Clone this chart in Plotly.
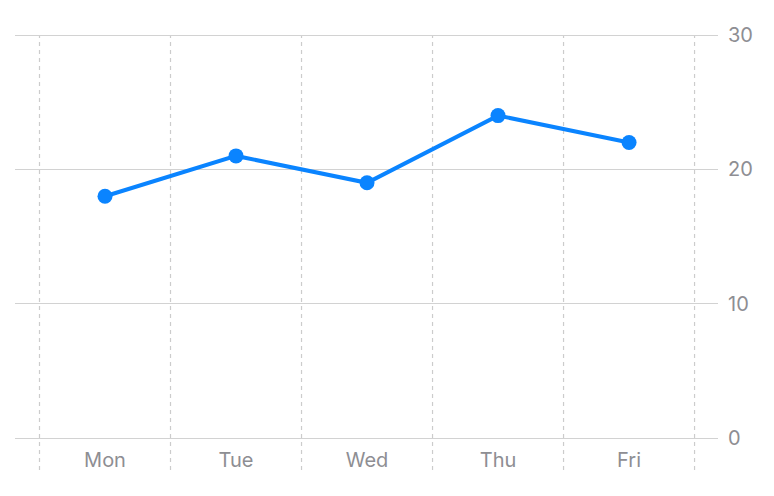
import plotly.graph_objects as go

days = ["Mon", "Tue", "Wed", "Thu", "Fri"]
values = [18, 21, 19, 24, 22]
y_ticks = [0, 10, 20, 30]

BLUE = "#0A84FF"
GRID = "#d2d2d2"
DASH = "#cccccc"
TEXT = "#8e8e93"
FONT = "Inter, Roboto, sans-serif"

idx = list(range(len(days)))

fig = go.Figure()
fig.add_trace(go.Scatter(
    x=idx, y=values, mode="lines+markers",
    line=dict(color=BLUE, width=4),
    marker=dict(color=BLUE, size=15),
    cliponaxis=False, showlegend=False, hoverinfo="skip",
))

# dashed vertical separators at category boundaries (from the 30 line down past the axis)
for b in [i - 0.5 for i in range(len(days) + 1)]:
    fig.add_shape(type="line", xref="x", yref="paper", x0=b, x1=b, y0=-0.0786, y1=0.99,
                  line=dict(color=DASH, width=1.2, dash="4px,4px"), layer="below")

# page body has an 8px margin, so the figure is sized to fit the window
fig.update_layout(
    width=766, height=488,
    margin=dict(l=7, r=56, t=23, b=58),
    paper_bgcolor="white", plot_bgcolor="white",
    font=dict(family=FONT, color=TEXT, size=20),
    xaxis=dict(range=[-0.687, 4.679], tickvals=idx, ticktext=days,
               showgrid=False, zeroline=False, showline=False, ticks="",
               tickfont=dict(size=20, color=TEXT), ticklabelstandoff=8),
    yaxis=dict(side="right", range=[0, 30.3], tickvals=y_ticks,
               showgrid=True, gridcolor=GRID, gridwidth=1,
               zeroline=True, zerolinecolor=GRID, zerolinewidth=1,
               showline=False, ticks="", ticklabelstandoff=9,
               tickfont=dict(size=20, color=TEXT)),
)

fig.write_html("out.html")
